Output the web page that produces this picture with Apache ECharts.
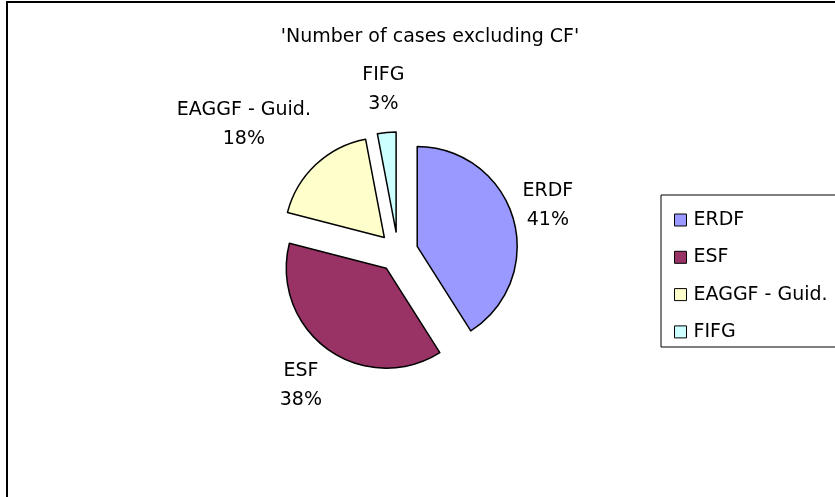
<!DOCTYPE html>
<html>
<head>
<meta charset="utf-8">
<script src="https://cdn.jsdelivr.net/npm/echarts@6/dist/echarts.min.js"></script>
<style>
  html, body { margin: 0; padding: 0; background: #fff; }
  #chart { width: 835px; height: 497px; }
</style>
</head>
<body>
<div id="chart"></div>
<script>
var titleText = "'Number of cases excluding CF'";
var categories = ["ERDF", "ESF", "EAGGF - Guid.", "FIFG"];
var shares = [41, 38, 18, 3];
var colors = ["#9999FF", "#993366", "#FFFFCC", "#CCFFFF"];

// label nudges, Excel puts them a bit differently than echarts
var nudge = [[1, -3], [-6, 8], [-48, -14], [0, -8]];

var font = "DejaVu Sans";
var chart = echarts.init(document.getElementById("chart"), null, { renderer: "canvas" });

var option = {
    backgroundColor: "#fff",
    animation: false,
    color: colors,
    title: {
        text: titleText,
        left: 425,
        top: 23,
        textAlign: "center",
        textStyle: { fontFamily: font, fontSize: 19, fontWeight: "normal", color: "#000" }
    },
    legend: {
        orient: "vertical",
        left: 669,
        top: 205,
        icon: "rect",
        itemWidth: 12,
        itemHeight: 12,
        itemGap: 17.3,
        selectedMode: false,
        data: categories,
        itemStyle: { borderColor: "#000", borderWidth: 1 },
        textStyle: { fontFamily: font, fontSize: 19, lineHeight: 20, color: "#000", padding: [0, 0, 0, 2] }
    },
    graphic: [
        { type: "rect", shape: { x: 7, y: 2, width: 900, height: 600 }, style: { fill: null, stroke: "#000", lineWidth: 2 }, z: -1 },
        { type: "rect", shape: { x: 661, y: 195, width: 250, height: 152 }, style: { fill: null, stroke: "#000", lineWidth: 1 }, z: -1 }
    ],
    series: [{
        type: "pie",
        center: [398, 252],
        radius: 100,
        startAngle: 90,
        clockwise: true,
        selectedMode: "multiple",
        selectedOffset: 20,
        avoidLabelOverlap: false,
        itemStyle: { borderColor: "#000", borderWidth: 1.5 },
        select: { itemStyle: { borderColor: "#000", borderWidth: 1.5 } },
        emphasis: { disabled: true },
        label: {
            position: "outside",
            formatter: "{b}\n{d}%",
            fontFamily: font,
            fontSize: 19,
            lineHeight: 29,
            color: "#000",
            distanceToLabelLine: 0
        },
        labelLine: { show: false, length: 35, length2: 0 },
        labelLayout: function (p) {
            var n = nudge[p.dataIndex];
            return { align: "center", verticalAlign: "middle", dx: n[0], dy: n[1] };
        },
        data: categories.map(function (c, i) {
            return { name: c, value: shares[i], selected: true };
        })
    }]
};

chart.setOption(option);
</script>
</body>
</html>
